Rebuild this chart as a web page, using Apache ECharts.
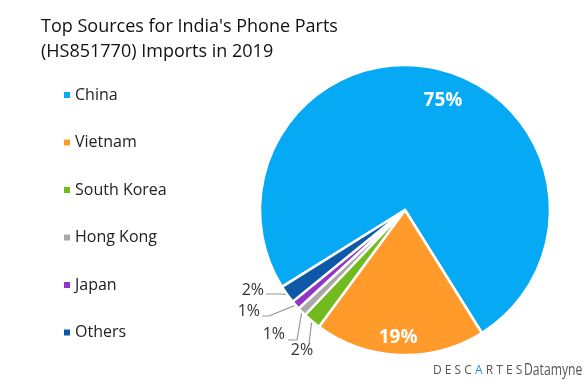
<!DOCTYPE html>
<html><head><meta charset="utf-8">
<script src="https://cdn.jsdelivr.net/npm/echarts@6/dist/echarts.min.js"></script>
<style>html,body{margin:0;padding:0;background:#fff}#c{width:587px;height:386px}</style>
</head><body><div id="c"></div>
<script>
const categories = ['China','Vietnam','South Korea','Hong Kong','Japan','Others'];
const values = [75, 19, 2, 1, 1, 2];
const colors = ['#06A9F4','#FF9A2B','#72BB1F','#A8A8A8','#9234C9','#0E58A8'];
const FONT = '"Open Sans", "Noto Sans", sans-serif';
const insideOffsets = {China:[21,-36], Vietnam:[-4,52]};
// label placement (style only) for the small outside labels
const outsideLabels = {
  'South Korea': {x:302, y:350, align:'center', line:[[309,343],[309,343]]},
  'Hong Kong':   {x:285, y:334, align:'right',  line:[[297,340],[288,340]]},
  'Japan':       {x:260, y:311, align:'right',  line:[[269,316],[262,316]]},
  'Others':      {x:264, y:290, align:'right',  line:[[277,294],[266,294]]}
};
const chart = echarts.init(document.getElementById('c'));
chart.setOption({
  animation:false,
  title:{text:"Top Sources for India's Phone Parts\n(HS851770) Imports in 2019", left:36, top:9,
    textStyle:{fontFamily:FONT,fontSize:18,fontWeight:'normal',color:'#111',lineHeight:25}},
  legend:{orient:'vertical', left:57, top:82, itemWidth:8, itemHeight:8, itemGap:31.5, icon:'rect',
    textStyle:{fontFamily:FONT,fontSize:16,color:'#222',padding:[0,0,0,-1]}, data:categories},
  graphic:[
    {type:'text', x:433, y:365, style:{
      text:'{a|D E S C }{b|A}{a| R T E S}',
      rich:{a:{fontFamily:FONT,fontSize:12,fill:'#555'}, b:{fontFamily:FONT,fontSize:12,fill:'#2a8fd6'}}}},
    {type:'text', x:524, y:362, scaleX:0.76, style:{text:'Datamyne', fontFamily:FONT, fontSize:16, fill:'#555'}}
  ],
  series:[{type:'pie', center:[405,210], radius:[0,145], startAngle:212, clockwise:true,
    itemStyle:{borderColor:'#fff', borderWidth:2.5},
    label:{fontFamily:FONT, fontSize:16, color:'#333', formatter:'{c}%'},
    labelLine:{lineStyle:{color:'#999', width:1.2}, length:6, length2:14},
    labelLayout: function(p){
      const o = outsideLabels[categories[p.dataIndex]];
      if(!o || !p.labelLinePoints) return {};
      return {x:o.x, y:o.y, align:o.align, verticalAlign:'middle',
        labelLinePoints:[p.labelLinePoints[0], o.line[0], o.line[1]]};
    },
    data: categories.map((n,i)=>({name:n, value:values[i], itemStyle:{color:colors[i]},
      label: values[i] > 10 ? {position:'inside', color:'#fff', fontWeight:'bold', fontSize:19, offset:insideOffsets[n]} : {}}))
  }]
});
</script></body></html>
